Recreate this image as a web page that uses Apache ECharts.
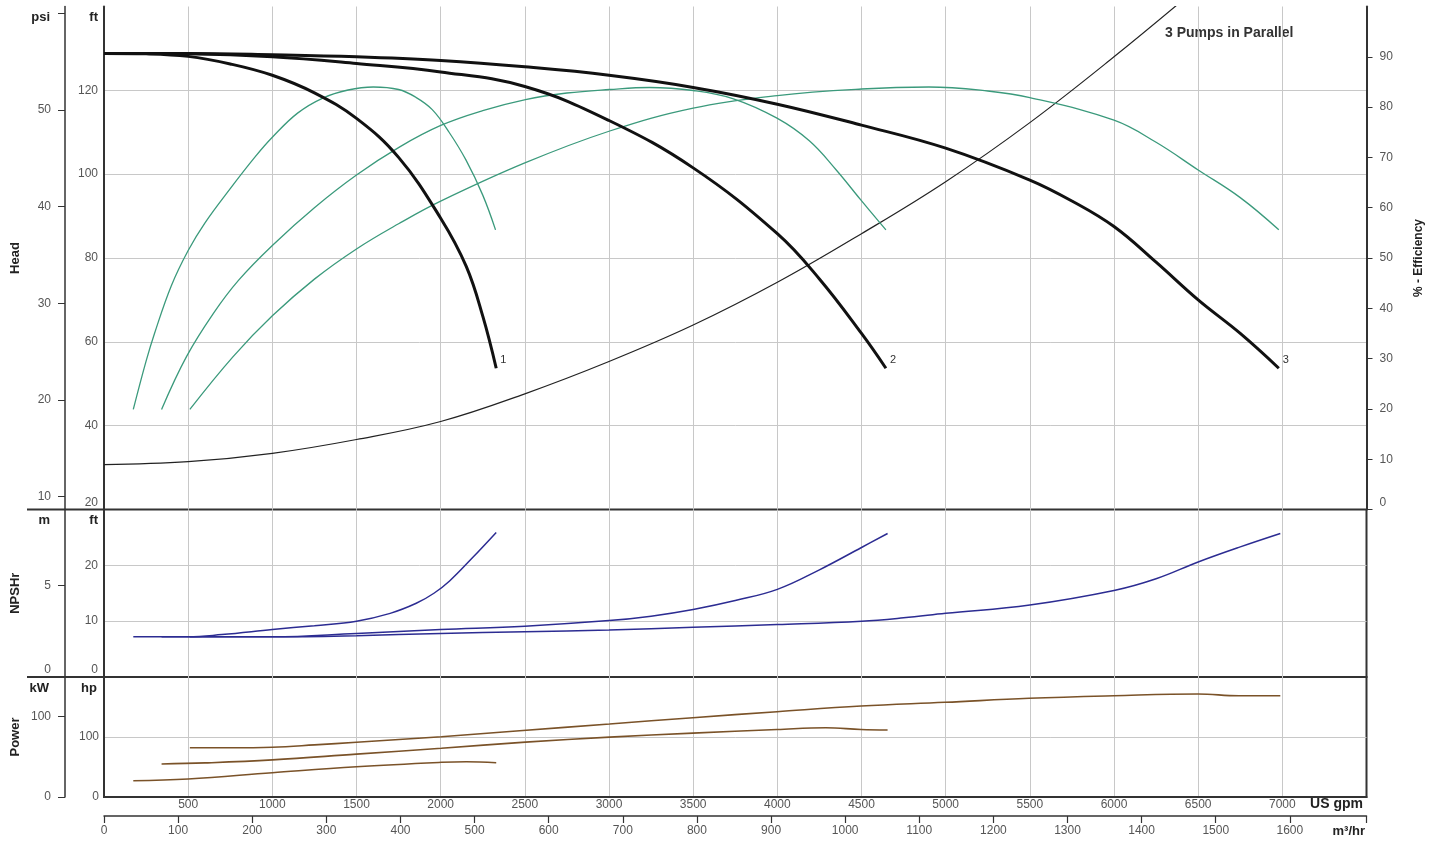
<!DOCTYPE html>
<html><head><meta charset="utf-8">
<script src="https://cdn.jsdelivr.net/npm/echarts@6/dist/echarts.min.js"></script>
<style>html,body{margin:0;padding:0;background:#fff}#c{width:1439px;height:841px}</style>
</head><body><div id="c"></div>
<script>
// ---------- data (x = US gpm) ----------
const head1 = [[0,128.8],[250,128.7],[500,128.1],[750,126.3],[1000,123.6],[1250,119.4],[1500,113.3],[1750,104.0],[2000,89.5],[2152,78.0],[2251,66.0],[2330,53.7]];
const head2 = [[0,128.8],[500,128.7],[1000,128.0],[1500,126.4],[2000,124.4],[2500,120.9],[3000,112.8],[3500,101.5],[4000,85.8],[4250,75.0],[4500,62.0],[4645,53.7]];
const head3 = [[0,128.8],[500,128.8],[1000,128.5],[1500,128.0],[2000,127.1],[2500,125.6],[3000,123.6],[3500,120.7],[4000,116.7],[4500,111.7],[5000,106.2],[5500,98.6],[5750,93.6],[6000,87.5],[6250,79.0],[6500,70.0],[6750,62.0],[6979,53.7]];
const systemCurve = [[0,30.7],[500,31.4],[1000,33.4],[1500,36.7],[2000,41.0],[2500,47.6],[3000,55.3],[3500,64.0],[4000,74.2],[4500,85.8],[5000,98.2],[5500,112.3],[6000,128.0],[6500,144.6]];
const eff1 = [[174,19.9],[250,29.5],[300,35.0],[400,44.5],[500,51.5],[600,57.0],[750,63.8],[900,70.2],[1000,74.0],[1150,78.8],[1300,81.8],[1450,83.4],[1600,84.0],[1750,83.5],[1850,82.0],[1950,79.5],[2050,75.0],[2150,69.5],[2250,62.5],[2326,55.6]];
const eff2 = [[342,19.9],[490,30.4],[650,39.0],[800,45.6],[1000,52.5],[1250,60.0],[1500,66.5],[1757,72.1],[2004,76.4],[2250,79.3],[2504,81.5],[2750,82.8],[3003,83.5],[3240,83.9],[3501,83.3],[3735,81.7],[3998,77.8],[4190,73.3],[4350,67.5],[4497,61.5],[4645,55.6]];
const eff3 = [[510,19.9],[767,30.4],[1000,38.5],[1250,45.8],[1500,51.8],[1750,56.8],[2000,61.3],[2500,68.9],[3000,75.2],[3500,79.8],[4000,82.3],[4500,83.6],[4900,84.0],[5250,83.2],[5500,81.9],[6000,77.4],[6250,73.0],[6500,67.5],[6750,62.0],[6979,55.6]];
const npsh1 = [[174,7.2],[500,7.2],[700,7.6],[1000,8.5],[1250,9.2],[1500,10.0],[1700,11.4],[1855,13.2],[1960,15.0],[2053,17.2],[2190,21.4],[2330,25.9]];
const npsh2 = [[342,7.2],[1000,7.2],[1500,7.8],[2000,8.5],[2500,9.1],[3000,10.1],[3250,10.9],[3500,12.1],[3750,13.7],[4000,15.7],[4250,19.2],[4500,23.2],[4655,25.7]];
const npsh3 = [[510,7.2],[1000,7.2],[1500,7.4],[2000,7.8],[2500,8.1],[3000,8.4],[3500,8.9],[4000,9.4],[4500,10.0],[4750,10.6],[5000,11.4],[5500,12.9],[6000,15.5],[6250,17.6],[6500,20.6],[6750,23.3],[6988,25.7]];
const power1 = [[174,27.2],[500,30.0],[1000,40.5],[1500,50.5],[2004,57.8],[2152,58.8],[2330,57.2]];
const power2 = [[342,55.0],[600,56.8],[1000,61.8],[1500,71.5],[2004,81.2],[2504,91.5],[3003,99.8],[3498,106.5],[3998,112.5],[4288,115.5],[4497,112.5],[4655,111.7]];
const power3 = [[510,82.2],[750,82.0],[1000,83.0],[1250,86.8],[1500,91.2],[2004,100.5],[2469,110.5],[3003,121.7],[3498,132.2],[3998,142.2],[4497,151.7],[4995,157.8],[5496,164.5],[6000,168.8],[6499,171.7],[6742,168.8],[6988,168.8]];
const curveNames = ['1','2','3'];
const psiTicks = [10,20,30,40,50,60];
const effTicks = [0,10,20,30,40,50,60,70,80,90];
const m3hTicks = [0,100,200,300,400,500,600,700,800,900,1000,1100,1200,1300,1400,1500,1600];

// unit conversions
const FT_PER_PSI = 2.3067, FT_PER_M = 3.2808, HP_PER_KW = 1.341, GPM_PER_M3H = 4.4029;
const GPM_MAX = 7500;

const FONT = 'Liberation Sans, Arial, sans-serif';
const LBL = {color:'#555', fontSize:12, fontFamily: FONT};
const GRIDC = '#c8c8c8', AXC = '#333';
const rich = {up:{padding:[0,0,14,0], color:'#555', fontSize:12, fontFamily:FONT}};

const G = {left:104, right:72.5};
const g0 = {top:6.5, h:503}, g1 = {top:509.5, h:167.5}, g2 = {top:677, h:120};

function xBase(gi){
  return {type:'value', gridIndex:gi, min:0, max:GPM_MAX, interval:500,
    axisLine:{show:false, onZero:false}, axisTick:{show:false}, axisLabel:{show:false},
    splitLine:{show:true, showMinLine:false, showMaxLine:false, lineStyle:{color:GRIDC, width:1}}};
}
const x2 = xBase(2);
x2.axisLabel = Object.assign({show:true, margin:2, showMinLabel:false, showMaxLabel:false, formatter: v => (v===0||v===GPM_MAX)?'':String(v)}, LBL);
x2.axisLine = {show:true, onZero:false, lineStyle:{color:AXC, width:2}};

const x3 = {type:'value', gridIndex:2, position:'bottom', offset:19, min:0, max:GPM_MAX/GPM_PER_M3H,
  axisLine:{show:true, onZero:false, lineStyle:{color:AXC, width:1.5}},
  axisTick:{show:true, length:7, lineStyle:{color:AXC, width:1.2}, customValues: m3hTicks.concat([GPM_MAX/GPM_PER_M3H])},
  axisLabel:Object.assign({show:true, margin:9, customValues:m3hTicks, formatter: v => String(Math.round(v))}, LBL),
  splitLine:{show:false}};

const nameStyle = {fontWeight:'bold', fontSize:13, color:'#222', fontFamily:FONT};
const sideName = (name, gap, size) => ({name, nameLocation:'middle', nameGap:gap, nameRotate:90, nameMoveOverlap:false,
  nameTextStyle:Object.assign({}, nameStyle, size?{fontSize:size}:{})});

const yAxes = [
  // 0 head ft
  {type:'value', gridIndex:0, position:'left', min:20, max:140, interval:20,
   axisLine:{show:true, onZero:false, lineStyle:{color:AXC, width:2}}, axisTick:{show:false},
   axisLabel:Object.assign({margin:6, rich, showMaxLabel:false, formatter: v => v===140?'':(v===20?'{up|20}':String(v))}, LBL),
   splitLine:{show:true, showMinLine:false, showMaxLine:false, lineStyle:{color:GRIDC}}},
  // 1 psi
  Object.assign({type:'value', gridIndex:0, position:'left', offset:39, min:20/FT_PER_PSI, max:140/FT_PER_PSI,
   axisLine:{show:true, onZero:false, lineStyle:{color:AXC, width:1.5}},
   axisTick:{show:true, length:7, lineStyle:{color:AXC}, customValues:psiTicks},
   axisLabel:Object.assign({margin:14, customValues:psiTicks.slice(0,5)}, LBL),
   splitLine:{show:false}}, sideName('Head', 43)),
  // 2 efficiency
  Object.assign({type:'value', gridIndex:0, position:'right', min:0, max:100,
   axisLine:{show:true, onZero:false, lineStyle:{color:AXC, width:2}},
   axisTick:{show:true, length:6, lineStyle:{color:AXC}, customValues:effTicks},
   axisLabel:Object.assign({margin:13, rich, customValues:effTicks, formatter: v => v===0?'{up|0}':String(v)}, LBL),
   splitLine:{show:false}}, sideName('% - Efficiency', 46, 12)),
  // 3 npsh ft
  {type:'value', gridIndex:1, position:'left', min:0, max:30, interval:10,
   axisLine:{show:true, onZero:false, lineStyle:{color:AXC, width:2}}, axisTick:{show:false},
   axisLabel:Object.assign({margin:6, rich, showMaxLabel:false, formatter: v => v===30?'':(v===0?'{up|0}':String(v))}, LBL),
   splitLine:{show:true, showMinLine:false, showMaxLine:false, lineStyle:{color:GRIDC}}},
  // 4 npsh m
  Object.assign({type:'value', gridIndex:1, position:'left', offset:39, min:0, max:30/FT_PER_M,
   axisLine:{show:true, onZero:false, lineStyle:{color:AXC, width:1.5}},
   axisTick:{show:true, length:7, lineStyle:{color:AXC}, customValues:[0,5]},
   axisLabel:Object.assign({margin:14, rich, customValues:[0,5], formatter: v => v===0?'{up|0}':String(v)}, LBL),
   splitLine:{show:false}}, sideName('NPSHr', 43)),
  // 5 hp
  {type:'value', gridIndex:2, position:'left', min:0, max:200, interval:100,
   axisLine:{show:true, onZero:false, lineStyle:{color:AXC, width:2}}, axisTick:{show:false},
   axisLabel:Object.assign({margin:5, showMaxLabel:false, formatter: v => v===200?'':String(v)}, LBL),
   splitLine:{show:true, showMinLine:false, showMaxLine:false, lineStyle:{color:GRIDC}}},
  // 6 kW
  Object.assign({type:'value', gridIndex:2, position:'left', offset:39, min:0, max:200/HP_PER_KW,
   axisLine:{show:true, onZero:false, lineStyle:{color:AXC, width:1.5}},
   axisTick:{show:true, length:7, lineStyle:{color:AXC}, customValues:[0,100]},
   axisLabel:Object.assign({margin:14, customValues:[0,100]}, LBL),
   splitLine:{show:false}}, sideName('Power', 43))
];

function line(data, xi, yi, color, width, extra){
  return Object.assign({type:'line', data, xAxisIndex:xi, yAxisIndex:yi, showSymbol:false, symbol:'none',
    smooth:0.4, lineStyle:{color, width}, itemStyle:{color}, silent:true}, extra||{});
}
const headEnd = n => ({endLabel:{show:true, formatter:n, offset:[0,-8], distance:4, color:'#333', fontSize:11, fontFamily:FONT}});

const TEAL = '#3b9a7c', BLUE = '#2c2c92', BROWN = '#7a5228', BLK = '#111';

const series = [
  line(systemCurve, 0, 0, '#222', 1.2),
  line(eff1, 0, 2, TEAL, 1.3), line(eff2, 0, 2, TEAL, 1.3), line(eff3, 0, 2, TEAL, 1.3),
  line(head1, 0, 0, BLK, 3, headEnd(curveNames[0])),
  line(head2, 0, 0, BLK, 3, headEnd(curveNames[1])),
  line(head3, 0, 0, BLK, 3, headEnd(curveNames[2])),
  line(npsh1, 1, 3, BLUE, 1.5), line(npsh2, 1, 3, BLUE, 1.5), line(npsh3, 1, 3, BLUE, 1.5),
  line(power1, 2, 5, BROWN, 1.6), line(power2, 2, 5, BROWN, 1.6), line(power3, 2, 5, BROWN, 1.6)
];

const tx = (text, x, y, align, size) => ({type:'text', x, y,
  style:{text, fill:'#222', font:'bold '+(size||13)+'px '+FONT, textAlign:align||'right', textVerticalAlign:'middle'}});
const sep = y => ({type:'line', shape:{x1:27, y1:y, x2:G.left, y2:y}, style:{stroke:AXC, lineWidth:2}});

const gridCommon = {left:G.left, right:G.right, containLabel:false, outerBoundsMode:'none'};
const chart = echarts.init(document.getElementById('c'), null, {renderer:'canvas'});
chart.setOption({
  animation:false,
  backgroundColor:'#fff',
  grid:[
    Object.assign({top:g0.top, height:g0.h, show:false}, gridCommon),
    Object.assign({top:g1.top, height:g1.h, show:true, borderColor:AXC, borderWidth:2, backgroundColor:'transparent'}, gridCommon),
    Object.assign({top:g2.top, height:g2.h, show:true, borderColor:AXC, borderWidth:2, backgroundColor:'transparent'}, gridCommon)
  ],
  xAxis:[xBase(0), xBase(1), x2, x3],
  yAxis:yAxes,
  series,
  graphic:[
    sep(g1.top), sep(g2.top),
    tx('psi', 50, 17), tx('ft', 98, 17),
    tx('m', 50, 520), tx('ft', 98, 520),
    tx('kW', 49, 688), tx('hp', 97, 688),
    tx('US gpm', 1363, 804, 'right', 14), tx('m\u00b3/hr', 1365, 831, 'right', 13),
    {type:'text', x:1165, y:33, style:{text:'3 Pumps in Parallel', fill:'#333', font:'bold 14px '+FONT, textAlign:'left', textVerticalAlign:'middle'}}
  ]
});
</script></body></html>
